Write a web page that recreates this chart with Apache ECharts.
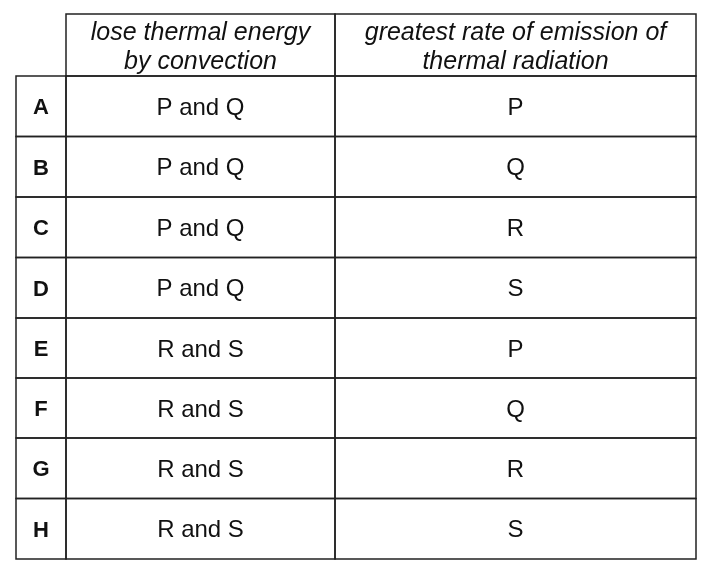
<!DOCTYPE html>
<html><head><meta charset="utf-8">
<script src="https://cdn.jsdelivr.net/npm/echarts@6/dist/echarts.min.js"></script>
<style>html,body{margin:0;padding:0;background:#fff}#c{width:710px;height:568px}</style>
</head><body><div id="c"></div>
<script>
var headers = ['', 'lose thermal energy\nby convection', 'greatest rate of emission of\nthermal radiation'];
var rowLabels = ['A','B','C','D','E','F','G','H'];
var convection = ['P and Q','P and Q','P and Q','P and Q','R and S','R and S','R and S','R and S'];
var emission = ['P','Q','R','S','P','Q','R','S'];
var colEdges = [0, 50, 319, 680];
var rowEdges = [0, 62, 122.5, 183, 243.5, 304, 364, 424, 484.5, 545];

var data = [];
headers.forEach(function(h,c){ data.push([c,0,h]); });
rowLabels.forEach(function(l,i){
  data.push([0,i+1,l]); data.push([1,i+1,convection[i]]); data.push([2,i+1,emission[i]]);
});

var chart = echarts.init(document.getElementById('c'));
chart.setOption({
  animation:false,
  grid:{left:16,right:14,top:14,bottom:9},
  xAxis:{type:'value',min:0,max:680,show:false},
  yAxis:{type:'value',min:0,max:545,inverse:true,show:false},
  series:[{
    type:'custom',
    data:data,
    renderItem:function(params, api){
      var c=api.value(0), r=api.value(1), t=data[params.dataIndex][2];
      var p0=api.coord([colEdges[c],rowEdges[r]]), p1=api.coord([colEdges[c+1],rowEdges[r+1]]);
      var children=[];
      if(!(r===0&&c===0)){
        children.push({type:'rect',shape:{x:p0[0],y:p0[1],width:p1[0]-p0[0],height:p1[1]-p0[1]},
          style:{fill:'none',stroke:'#222',lineWidth:1.5}});
      }
      var st={text:t,x:(p0[0]+p1[0])/2,y:(p0[1]+p1[1])/2+2,align:'center',verticalAlign:'middle',
        fill:'#111',fontFamily:'"Liberation Sans", Arial, sans-serif',fontSize:24};
      if(r===0){st.fontStyle='italic';st.fontSize=25;st.lineHeight=29;st.y=(p0[1]+p1[1])/2+3;}
      else if(c===0){st.fontWeight='bold';st.fontSize=22;}
      children.push({type:'text',style:st});
      return {type:'group',children:children};
    }
  }]
});
</script></body></html>
